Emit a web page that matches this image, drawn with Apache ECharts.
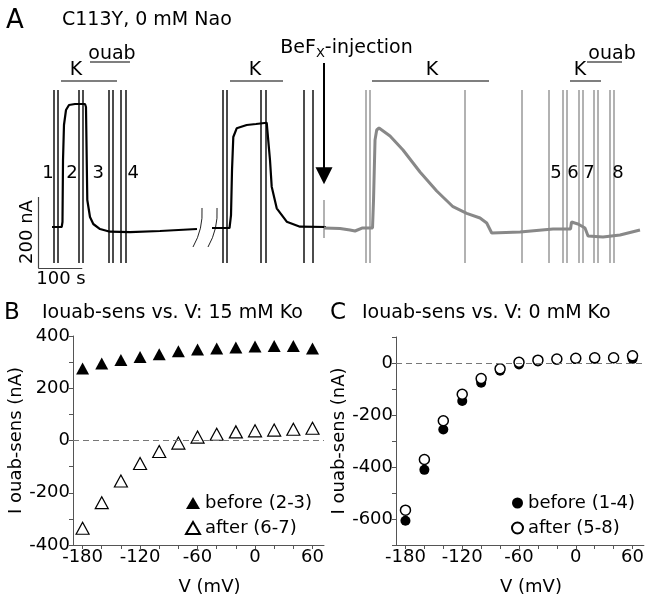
<!DOCTYPE html>
<html><head><meta charset="utf-8">
<script src="https://cdn.jsdelivr.net/npm/echarts@6/dist/echarts.min.js"></script>
<style>html,body{margin:0;padding:0;background:#fff}#c{width:647px;height:599px}</style>
</head><body><div id="c"></div>
<script>
// ---------- Panel A: current trace (time in s, current in nA) ----------
const traceControlPart1 = [[27.3,5.6],[49.3,5.6],[51.1,19.7],[52.3,194.4],[54.5,293.0],[59.1,335.2],[65.9,349.3],[79.5,352.1],[102.3,352.1],[104.5,343.7],[107.5,81.7],[113.6,33.8],[121.1,14.1],[136.4,0],[159.1,-7.6],[204.5,-8.5],[272.7,-5.6],[356.8,0]];
const traceControlPart2 = [[390.9,2.8],[430.7,2.8],[434.1,39.4],[436.4,166.2],[439.3,259.2],[447.0,283.7],[469.8,293],[490.9,295.8],[515.2,299.4],[518.2,295.8],[522.7,194.4],[526.6,119.2],[538,58.3],[560.7,20.6],[590.9,6.5],[650,5.6]];
const traceBeFx = [[645.5,2.8],[681.8,1.4],[704.5,-2.8],[715.9,-5.6],[731.8,2.8],[755.7,2.8],[758,81.7],[761.4,250.7],[765.2,278.9],[770.5,284.5],[795.5,262],[825,222.5],[863.6,160.6],[901.6,107],[938.6,62.8],[969.8,44.2],[1000,31],[1015.2,16.9],[1026.6,-11.3],[1090.9,-8.5],[1165.9,0],[1205.7,0],[1207.9,19.7],[1222.7,14.1],[1238.6,2.8],[1245.5,-19.7],[1279.5,-22.5],[1318.2,-16.9],[1363.6,-2.8]];
const markTimesBefore = [30.2,40.2,87.0,96.1,155.2,164.3,183.4,193.9,415.2,424.3,501.6,512.0,600,618.9];
const markTimesAfter = [740.2,750,965.9,1094.8,1156.1,1187.9,1197,1224.3,1233.4,1259.1,1267.5,1293.9,1303];
const markRange = [-95.8, 391.5];
const injectionTime = 645.5;
const injectionRange = [-25.4, 81.7];
const arrowRange = [467.6, 150];
const kBars = [[47.7,175],[431.8,552.3],[754.5,1020.5],[1204.5,1275]];
const ouabBars = [[113.6,204.5],[1243.2,1322.7]];
const kLevel = 416.9, ouabLevel = 470.4;
const kLabels = [[81.8,448,'K'],[488.6,448,'K'],[890.9,448,'K'],[1227.3,448,'K']];
const ouabLabels = [[163.6,493,'ouab'],[1300,493,'ouab']];
const segmentLabels = [[18.2,158,'1'],[72.7,158,'2'],[132.6,158,'3'],[212,158,'4'],[1172.7,158,'5'],[1211.4,158,'6'],[1247.7,158,'7'],[1313.6,158,'8']];
const injectionLabel = [[696.6,510,'BeFx-injection']];
const breakMarks = [[[368.2,59.2],[347.7,-50.7]],[[402.3,59.2],[381.8,-50.7]]];
const scaleBarV = [[-4,-110],[-4,90]];
const scaleBarH = [[-4,-110],[96,-110]];
const scaleLabels = [[-29.5,-8.5,'200 nA'],[47.7,-141,'100 s']];

// ---------- Panels B and C: I ouab-sens vs V ----------
const voltages = [-180,-160,-140,-120,-100,-80,-60,-40,-20,0,20,40,60];
const bBefore = [276,295,308,320,330,342,348,352,356,360,362,362,352];
const bAfter = [-336,-238,-155,-88,-42,-10,13,24,33,37,40,43,47];
const cBefore = [-607,-411,-256,-146,-76,-30,-6,6,13,15,16,18,16];
const cAfter = [-566,-371,-222,-120,-60,-22,3,11,15,18,20,20,28];
const xTickValues = [-180,-160,-140,-120,-100,-80,-60,-40,-20,0,20,40,60];
const xLabelValues = [-180,-120,-60,0,60];
const bYTicks = [-400,-300,-200,-100,0,100,200,300,400];
const bYLabels = [-400,-200,0,200,400];
const cYTicks = [-700,-600,-500,-400,-300,-200,-100,0,100];
const cYLabels = [-600,-400,-200,0];

const FONT = 'DejaVu Sans';
const pair = (xs, ys) => xs.map((x, i) => [x, ys[i]]);
const vLines = ts => ts.map(t => ({coords: [[t, markRange[0]], [t, markRange[1]]]}));
const hBars = (bars, lvl) => bars.map(b => ({coords: [[b[0], lvl], [b[1], lvl]]}));

const textSeries = (data, size, extra) => Object.assign({
  type: 'scatter', xAxisIndex: 0, yAxisIndex: 0, data: data, symbolSize: 1, silent: true,
  itemStyle: {color: 'transparent', opacity: 1},
  label: {show: true, position: 'inside', color: '#000', fontSize: size, fontFamily: FONT,
          formatter: p => p.data[2]}
}, extra || {});

const axisLineStyle = {show: true, onZero: false, lineStyle: {color: '#555', width: 1}};

const xIV = (grid) => ({
  type: 'value', gridIndex: grid, min: -190, max: 72,
  axisLine: axisLineStyle, splitLine: {show: false},
  name: 'V (mV)', nameLocation: 'middle', nameGap: 33,
  nameTextStyle: {color: '#000', fontSize: 18, fontFamily: FONT, padding: [0,0,0,22]},
  axisTick: {show: true, length: 4, lineStyle: {color: '#555'}, customValues: xTickValues},
  axisLabel: {color: '#000', fontSize: 18, fontFamily: FONT, margin: 3, customValues: xLabelValues}
});
const yIV = (grid, mn, mx, ticks, labels) => ({
  type: 'value', gridIndex: grid, min: mn, max: mx,
  axisLine: axisLineStyle, splitLine: {show: false},
  name: 'I ouab-sens (nA)', nameLocation: 'middle', nameGap: 44,
  nameTextStyle: {color: '#000', fontSize: 18, fontFamily: FONT},
  axisTick: {show: true, length: 4, lineStyle: {color: '#555'}, customValues: ticks},
  axisLabel: {color: '#000', fontSize: 18, fontFamily: FONT, margin: 3, customValues: labels}
});

const zeroLine = {silent: true, symbol: 'none', label: {show: false},
  lineStyle: {type: [6, 4], color: '#777', width: 1, opacity: 1}, data: [{yAxis: 0}]};

const chart = echarts.init(document.getElementById('c'), null, {renderer: 'canvas'});
chart.setOption({
  animation: false,
  backgroundColor: '#fff',
  textStyle: {fontFamily: FONT},
  title: [
    {text: 'A', left: 6, top: 8, padding: 0, textStyle: {fontSize: 26, fontWeight: 'normal', color: '#000', fontFamily: FONT}},
    {text: 'C113Y, 0 mM Nao', left: 62, top: 11, padding: 0, textStyle: {fontSize: 19, fontWeight: 'normal', color: '#000', fontFamily: FONT}},
    {text: 'B', left: 4, top: 302, padding: 0, textStyle: {fontSize: 23, fontWeight: 'normal', color: '#000', fontFamily: FONT}},
    {text: 'Iouab-sens vs. V: 15 mM Ko', left: 42, top: 304, padding: 0, textStyle: {fontSize: 19, fontWeight: 'normal', color: '#000', fontFamily: FONT}},
    {text: 'C', left: 330, top: 302, padding: 0, textStyle: {fontSize: 23, fontWeight: 'normal', color: '#000', fontFamily: FONT}},
    {text: 'Iouab-sens vs. V: 0 mM Ko', left: 362, top: 304, padding: 0, textStyle: {fontSize: 19, fontWeight: 'normal', color: '#000', fontFamily: FONT}}
  ],
  grid: [
    {left: 20, top: 40, width: 620, height: 250},
    {left: 73, top: 336, width: 251, height: 209},
    {left: 396, top: 337, width: 251, height: 208}
  ],
  xAxis: [
    {type: 'value', gridIndex: 0, min: -45.45, max: 1363.6, show: false},
    xIV(1), xIV(2)
  ],
  yAxis: [
    {type: 'value', gridIndex: 0, min: -171.8, max: 532.4, show: false},
    yIV(1, -400, 400, bYTicks, bYLabels),
    yIV(2, -700, 100, cYTicks, cYLabels)
  ],
  legend: [
    {data: ['before (2-3)', 'after (6-7)'], left: 185, top: 494, orient: 'vertical', itemGap: 7,
     itemWidth: 14, itemHeight: 12, textStyle: {fontSize: 18, color: '#000', fontFamily: FONT}, padding: 0},
    {data: ['before (1-4)', 'after (5-8)'], left: 511, top: 494, orient: 'vertical', itemGap: 7,
     itemWidth: 11, itemHeight: 11, textStyle: {fontSize: 18, color: '#000', fontFamily: FONT}, padding: 0}
  ],
  series: [
    // marker lines
    {type: 'lines', coordinateSystem: 'cartesian2d', xAxisIndex: 0, yAxisIndex: 0, silent: true,
     lineStyle: {color: '#111', width: 1.5, opacity: 1}, data: vLines(markTimesBefore)},
    {type: 'lines', coordinateSystem: 'cartesian2d', xAxisIndex: 0, yAxisIndex: 0, silent: true,
     lineStyle: {color: '#999', width: 1.5, opacity: 1}, data: vLines(markTimesAfter)},
    {type: 'lines', coordinateSystem: 'cartesian2d', xAxisIndex: 0, yAxisIndex: 0, silent: true,
     lineStyle: {color: '#999', width: 1.5, opacity: 1},
     data: [{coords: [[injectionTime, injectionRange[0]], [injectionTime, injectionRange[1]]]}]},
    // traces
    {type: 'line', xAxisIndex: 0, yAxisIndex: 0, data: traceControlPart1, showSymbol: false, symbol: 'none', silent: true,
     lineStyle: {color: '#000', width: 2.2}},
    {type: 'line', xAxisIndex: 0, yAxisIndex: 0, data: traceControlPart2, showSymbol: false, symbol: 'none', silent: true,
     lineStyle: {color: '#000', width: 2.2}},
    {type: 'line', xAxisIndex: 0, yAxisIndex: 0, data: traceBeFx, showSymbol: false, symbol: 'none', silent: true,
     lineStyle: {color: '#888', width: 3}},
    // solution bars
    {type: 'lines', coordinateSystem: 'cartesian2d', xAxisIndex: 0, yAxisIndex: 0, silent: true,
     lineStyle: {color: '#555', width: 1.5, opacity: 1}, data: hBars(kBars, kLevel).concat(hBars(ouabBars, ouabLevel))},
    // break marks
    {type: 'lines', coordinateSystem: 'cartesian2d', xAxisIndex: 0, yAxisIndex: 0, silent: true,
     lineStyle: {color: '#222', width: 1, opacity: 1, curveness: 0.15},
     data: breakMarks.map(c => ({coords: c}))},
    // scale bars
    {type: 'lines', coordinateSystem: 'cartesian2d', xAxisIndex: 0, yAxisIndex: 0, silent: true,
     lineStyle: {color: '#444', width: 1.2, opacity: 1},
     data: [{coords: scaleBarV}, {coords: scaleBarH}]},
    // arrow
    {type: 'lines', coordinateSystem: 'cartesian2d', xAxisIndex: 0, yAxisIndex: 0, silent: true,
     symbol: ['none', 'triangle'], symbolSize: 17,
     lineStyle: {color: '#000', width: 2, opacity: 1},
     data: [{coords: [[injectionTime, arrowRange[0]], [injectionTime, arrowRange[1]]]}]},
    // text labels
    textSeries(kLabels, 19),
    textSeries(ouabLabels, 19),
    textSeries(segmentLabels, 18),
    textSeries(injectionLabel, 19, {label: {show: true, position: 'inside', color: '#000', fontFamily: FONT,
      formatter: '{a|BeF}{s|X}{a|-injection}',
      rich: {a: {fontSize: 19, fontFamily: FONT, color: '#000'}, s: {fontSize: 13, fontFamily: FONT, color: '#000', padding: [12, 0, 0, 0]}}}}),
    textSeries([scaleLabels[0]], 18, {label: {show: true, position: 'inside', color: '#000', fontSize: 18, fontFamily: FONT, rotate: 90, formatter: p => p.data[2]}}),
    textSeries([scaleLabels[1]], 18),
    // IV panels
    {name: 'before (2-3)', type: 'scatter', xAxisIndex: 1, yAxisIndex: 1, data: pair(voltages, bBefore),
     symbol: 'triangle', symbolSize: [13, 12], itemStyle: {color: '#000', opacity: 1}},
    {name: 'after (6-7)', type: 'scatter', xAxisIndex: 1, yAxisIndex: 1, data: pair(voltages, bAfter),
     symbol: 'triangle', symbolSize: [13, 12], itemStyle: {color: '#fff', borderColor: '#000', borderWidth: 1.2, opacity: 1},
     markLine: zeroLine},
    {name: 'before (1-4)', type: 'scatter', xAxisIndex: 2, yAxisIndex: 2, data: pair(voltages, cBefore),
     symbol: 'circle', symbolSize: 10, itemStyle: {color: '#000', opacity: 1}},
    {name: 'after (5-8)', type: 'scatter', xAxisIndex: 2, yAxisIndex: 2, data: pair(voltages, cAfter),
     symbol: 'circle', symbolSize: 10, itemStyle: {color: '#fff', borderColor: '#000', borderWidth: 1.5, opacity: 1},
     markLine: zeroLine}
  ]
});
</script></body></html>
